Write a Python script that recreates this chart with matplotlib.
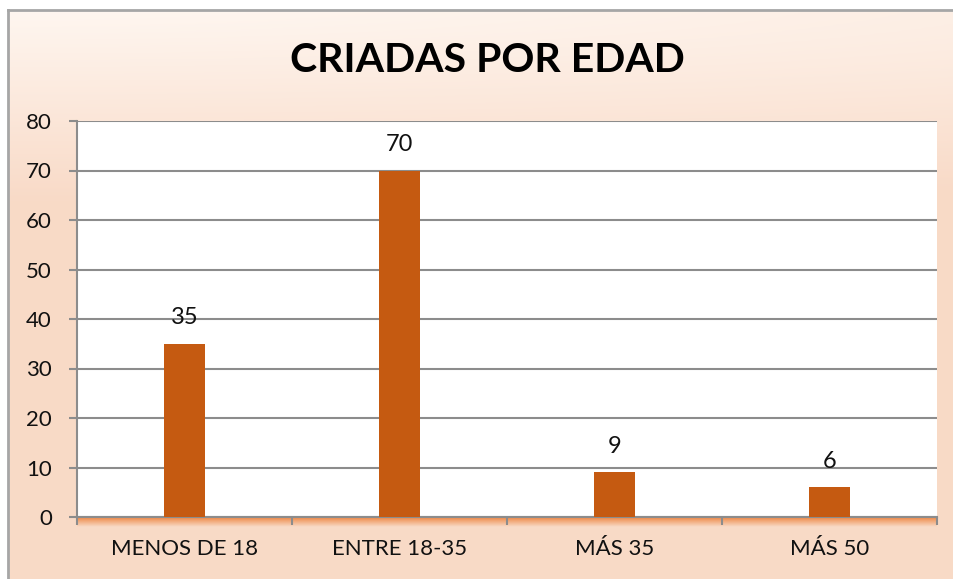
import numpy as np
import matplotlib
matplotlib.use("Agg")
import matplotlib.pyplot as plt
from matplotlib.lines import Line2D

categories = ["MENOS DE 18", "ENTRE 18-35", "MÁS 35", "MÁS 50"]
values = [35, 70, 9, 6]
yticks = [0, 10, 20, 30, 40, 50, 60, 70, 80]

plt.rcParams['font.family'] = ['Lato', 'DejaVu Sans']

W, H = 954, 579
fig = plt.figure(figsize=(W / 100, H / 100), dpi=100, facecolor="#f9dac6")

# peach gradient background, lighter towards the top-left corner
bg = fig.add_axes([0, 0, 1, 1], zorder=-10)
yy, xx = np.mgrid[0:1:200j, 0:1:300j]
t = np.clip(1.0 - np.sqrt((yy / 0.35) ** 2 + (xx / 1.2) ** 2 * 0.15), 0, 1)
light = np.array([1.0, 0.975, 0.955])
peach = np.array([0.975, 0.855, 0.78])
img = peach[None, None, :] * (1 - t[..., None]) + light[None, None, :] * t[..., None]
bg.imshow(img, extent=[-0.01, 1.01, -0.01, 1.01], aspect="auto", origin="upper")
bg.set_xlim(0, 1)
bg.set_ylim(0, 1)
bg.axis("off")
# white margin outside the chart border
bg.axvspan(-0.01, 8.5 / W, color="white", zorder=2)
bg.axhspan(1 - 10 / H, 1.01, color="white", zorder=2)

fig.add_artist(Line2D([8.5 / W, 8.5 / W], [0, 1 - 10 / H], transform=fig.transFigure,
                      color="#a6a6a6", lw=2))
fig.add_artist(Line2D([8.5 / W, 1], [1 - 10 / H, 1 - 10 / H], transform=fig.transFigure,
                      color="#a6a6a6", lw=2))

left, right, top, bottom = 77, 937, 121, 517
ax = fig.add_axes([left / W, 1 - bottom / H, (right - left) / W, (bottom - top) / H])

# orange glow under the category axis
glow = fig.add_axes([left / W, 1 - (bottom + 10) / H, (right - left) / W, 10 / H], zorder=-5)
g = np.zeros((20, 2, 4))
g[..., 0], g[..., 1], g[..., 2] = 0.93, 0.50, 0.22
g[..., 3] = np.linspace(0.9, 0.0, 20)[:, None]
glow.imshow(g, aspect="auto", extent=[0, 1, 0, 1])
glow.axis("off")

x = np.arange(len(categories))
ax.bar(x, values, width=0.19, color="#c55a11", zorder=3)
for xi, v in zip(x, values):
    ax.annotate(str(v), (xi, v), xytext=(0, 11), textcoords="offset points",
                ha="center", va="bottom", fontsize=17, color="#111111")

ax.set_xlim(-0.5, len(categories) - 0.5)
ax.set_ylim(0, 80)
ax.set_yticks(yticks)
ax.grid(axis="y", color="#8c8c8c", lw=1.5, zorder=1)
ax.set_axisbelow(True)

ax.set_xticks(x)
ax.set_xticklabels(categories, fontsize=16, color="#111111")
ax.set_xticks(np.arange(-0.5, len(categories)), minor=True)
ax.tick_params(axis="x", which="major", length=0, pad=16)
ax.tick_params(axis="x", which="minor", length=6, width=1.5, color="#8c8c8c")
ax.tick_params(axis="y", length=6, width=1.5, color="#8c8c8c", labelsize=16,
               labelcolor="#111111", pad=12)

for s in ["top", "right"]:
    ax.spines[s].set_visible(False)
for s in ["left", "bottom"]:
    ax.spines[s].set_color("#8c8c8c")
    ax.spines[s].set_linewidth(1.5)

fig.text(487 / W, 1 - 60 / H, "CRIADAS POR EDAD", ha="center", va="center",
         fontsize=29.5, fontweight="bold", color="black")

fig.savefig("out.png", dpi=100, facecolor=fig.get_facecolor())
